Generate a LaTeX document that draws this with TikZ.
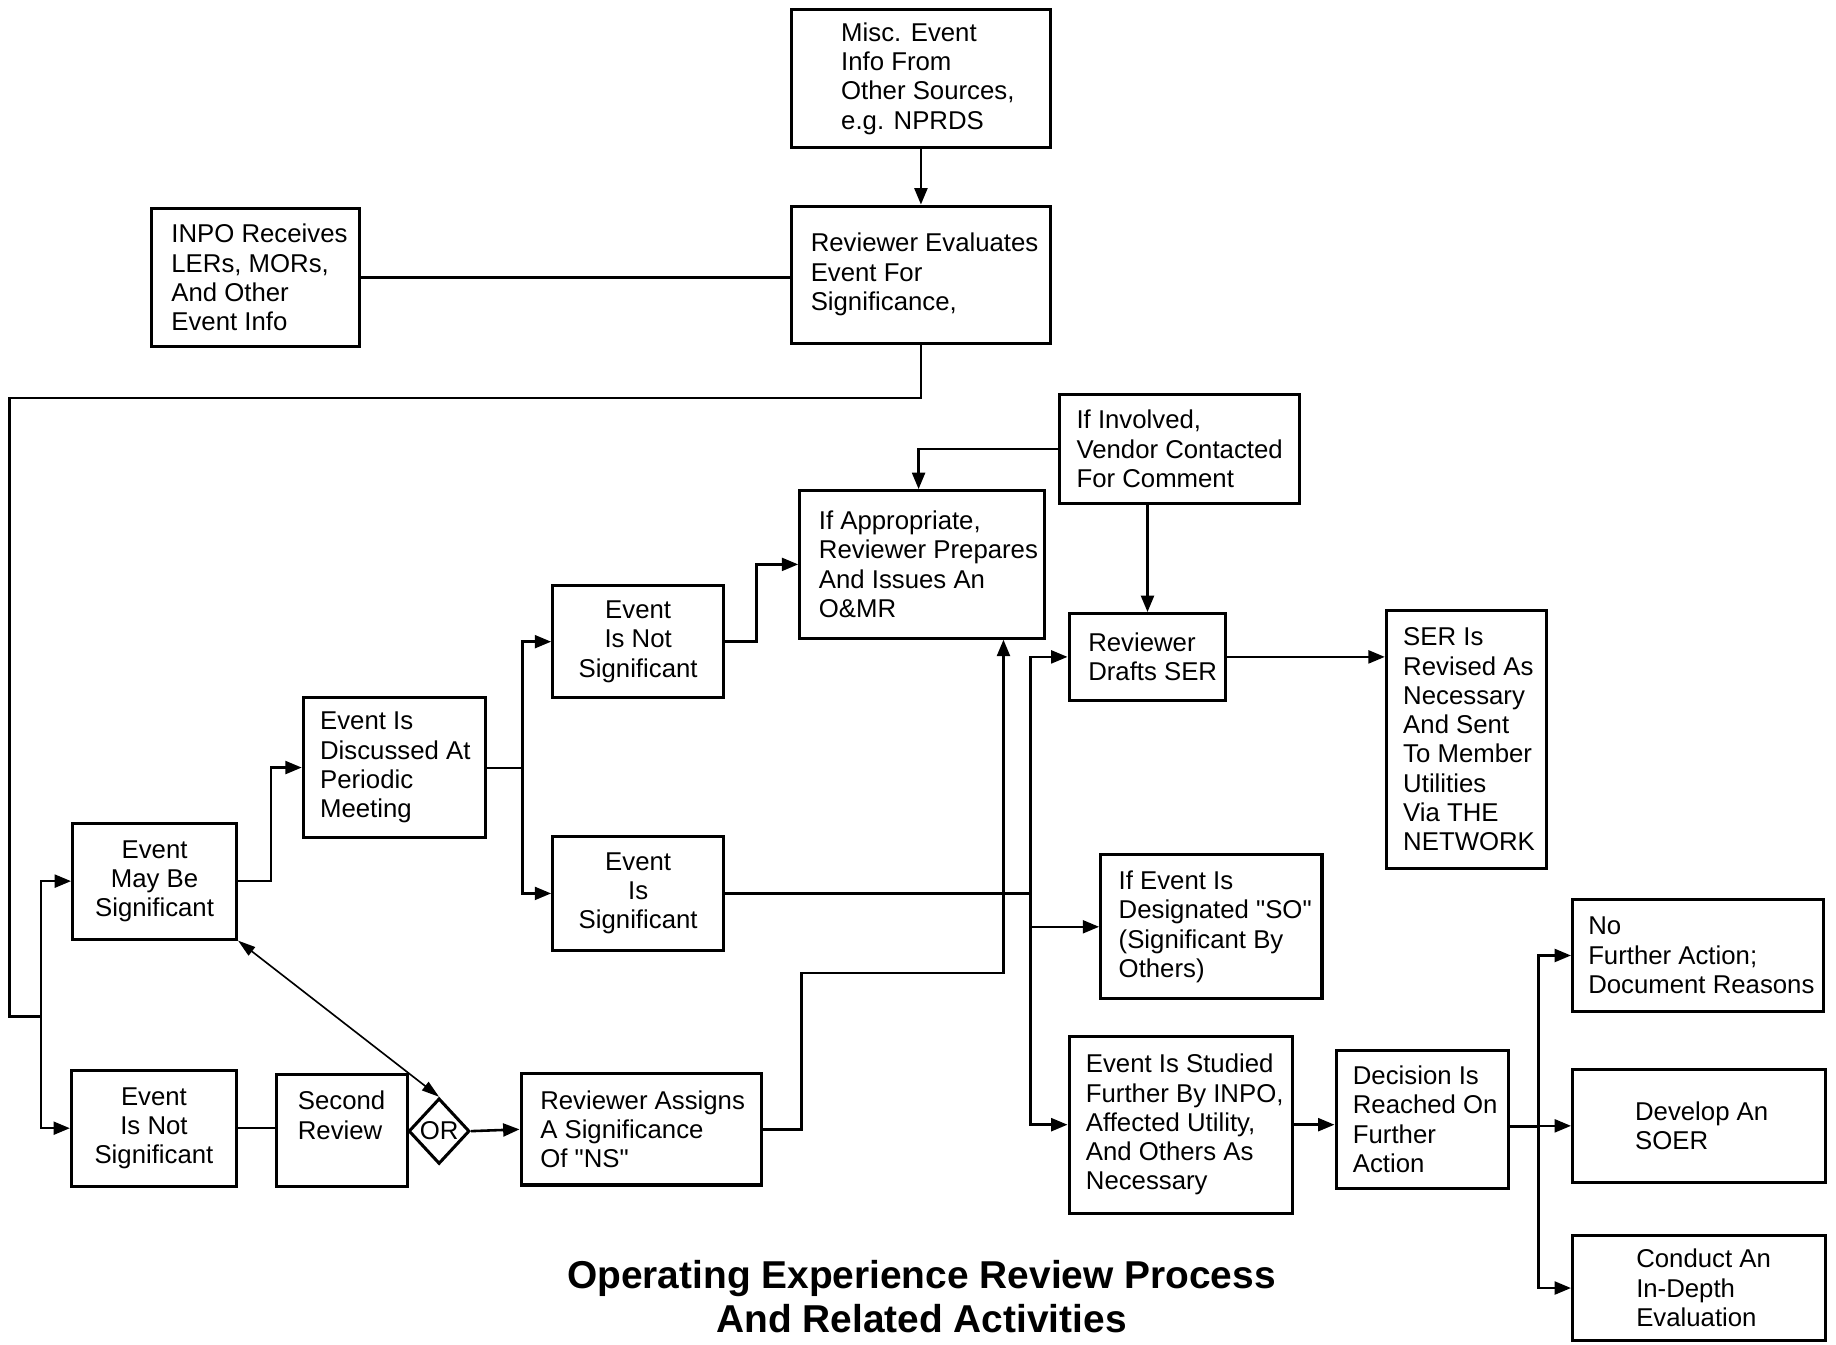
\documentclass[tikz,border=0pt]{standalone}
\usepackage{fontspec}
\setmainfont{Liberation Sans}[Ligatures=TeXOff]
\usetikzlibrary{arrows.meta,shapes.geometric}
\tikzset{
  box/.style={draw, line width=1.3pt, inner sep=0pt},
  txt/.style={inner sep=0pt, align=left, font=\fontsize{11}{12.5}\selectfont},
  ctxt/.style={box, align=center, font=\fontsize{11}{12.5}\selectfont},
  conn/.style={line width=1.1pt},
  arr/.style={conn, -{Triangle[length=7pt,width=5.5pt]}},
  dbl/.style={line width=0.7pt, {Triangle[length=7.5pt,width=4.5pt]}-{Triangle[length=7.5pt,width=4.5pt]}},
  ttl/.style={font=\fontsize{16.6}{20}\selectfont\bfseries, inner sep=0pt, anchor=base}
}
% name, x1, y1, x2, y2, left inset, text
\newcommand\mybox[7]{%
  \node[box, minimum width={(#4-#2)*0.5pt}, minimum height={(#5-#3)*0.5pt}] (#1) at ({(#2+#4)/2},{(#3+#5)/2}) {};
  \node[txt, anchor=west] (#1-t) at ({#2+#6},{(#3+#5)/2}) {#7};}
% name, x1, y1, x2, y2, text (centred)
\newcommand\mycbox[6]{%
  \node[ctxt, minimum width={(#4-#2)*0.5pt}, minimum height={(#5-#3)*0.5pt}] (#1) at ({(#2+#4)/2},{(#3+#5)/2}) {#6};}
\begin{document}
\begin{tikzpicture}[x=0.5pt, y=-0.5pt]
\fill[white] (0,0) rectangle (1568,1148);
\useasboundingbox (0,0) rectangle (1568,1148);

\mybox{misc}{676}{8}{897}{126}{42}{Misc. Event\\Info From\\Other Sources,\\e.g. NPRDS}
\mybox{reval}{676}{176}{897}{293}{16}{Reviewer Evaluates\\Event For\\Significance,}
\mybox{inpo}{129}{178}{307}{296}{17}{INPO Receives\\LERs, MORs,\\And Other\\Event Info}
\mycbox{maybe}{62}{703}{202}{802}{Event\\May Be\\Significant}
\mycbox{notsigL}{61}{914}{202}{1013}{Event\\Is Not\\Significant}
\node[box, minimum width=56pt, minimum height=47.5pt] (second) at (292,965.5) {};
\node[txt, anchor=west] (second-t) at (254,952.5) {Second\\Review};
\node[draw, diamond, line width=1.3pt, minimum width=26pt, minimum height=28pt, inner sep=0pt,
      font=\fontsize{11}{12.5}\selectfont] (or) at (375,966) {OR};
\mybox{assign}{445}{917}{650}{1012}{16}{Reviewer Assigns\\A Significance\\Of "NS"}
\mybox{disc}{259}{596}{415}{715}{14}{Event Is\\Discussed At\\Periodic\\Meeting}
\mycbox{nsT}{472}{500}{618}{596}{Event\\Is Not\\Significant}
\mycbox{isS}{472}{714}{618}{812}{Event\\Is\\Significant}
\mybox{omr}{683}{419}{892}{545}{16}{If Appropriate,\\Reviewer Prepares\\And Issues An\\O\&MR}
\mybox{invl}{905}{337}{1110}{430}{14}{If Involved,\\Vendor Contacted\\For Comment}
\mybox{drafts}{913}{524}{1047}{598}{16}{Reviewer\\Drafts SER}
\mybox{ser}{1184}{521}{1321}{742}{14}{SER Is\\Revised As\\Necessary\\And Sent\\To Member\\Utilities\\Via THE\\NETWORK}
\mybox{ifev}{940}{730}{1129}{853}{15}{If Event Is\\Designated "SO"\\(Significant By\\Others)}
\mybox{stud}{913}{885}{1104}{1036}{14}{Event Is Studied\\Further By INPO,\\Affected Utility,\\And Others As\\Necessary}
\mybox{dec}{1141}{897}{1288}{1015}{14}{Decision Is\\Reached On\\Further\\Action}
\mybox{nofa}{1343}{768}{1557}{864}{13}{No\\Further Action;\\Document Reasons}
\mybox{dev}{1343}{913}{1559}{1010}{53}{Develop An\\SOER}
\mybox{cond}{1343}{1055}{1559}{1145}{54}{Conduct An\\In-Depth\\Evaluation}

\node[ttl] (t1) at (787,1100) {Operating Experience Review Process};
\node[ttl] (t2) at (787,1138) {And Related Activities};

% junction points
\coordinate (j1) at (8,340);
\coordinate (j2) at (35,868);
\coordinate (j3) at (446,656);
\coordinate (j4) at (880,763);
\coordinate (j5) at (857,831);
\coordinate (j6) at (1314,962);

% connectors
\draw[arr] (misc.south) -- (reval.north);
\draw[conn] (inpo.east) -- (inpo.east -| reval.west);
\draw[conn] (reval.south) |- (j1) |- (j2);
\draw[arr] (j2) |- (maybe.west);
\draw[arr] (j2) |- (notsigL.west);
\draw[arr] (maybe.east) -- ++(28,0) |- (disc.west);
\draw[conn] (disc.east |- j3) -- (j3);
\draw[arr] (j3) |- (nsT.west);
\draw[arr] (j3) |- (isS.west);
\draw[arr] (nsT.east) -- ++(27,0) |- (omr.west);
\draw[arr] (invl.west) -| ([xshift=-1.5pt]omr.north);
\draw[arr] (drafts.north |- invl.south) -- (drafts.north);
\draw[arr] (drafts.east) -- (drafts.east -| ser.west);
\draw[conn] (isS.east) -- (j4);
\draw[arr] (j4) |- (drafts.west);
\draw[arr] (j4) |- (ifev.west);
\draw[arr] (j4) |- (stud.west);
\draw[arr] (assign.east) -- ++(33,0) |- (j5) -- (j5 |- omr.south);
\draw[dbl] (maybe.south east) -- (or.north);
\draw[conn] (notsigL.east) -- (notsigL.east -| second.west);
\draw[arr] (or.east) -- (assign.west);
\draw[arr] (stud.east) -- (stud.east -| dec.west);
\draw[conn] (dec.east |- j6) -- (j6);
\draw[arr] (j6) |- (nofa.west);
\draw[arr] (j6) |- (dev.west);
\draw[arr] (j6) |- (cond.west);
\end{tikzpicture}
\end{document}
